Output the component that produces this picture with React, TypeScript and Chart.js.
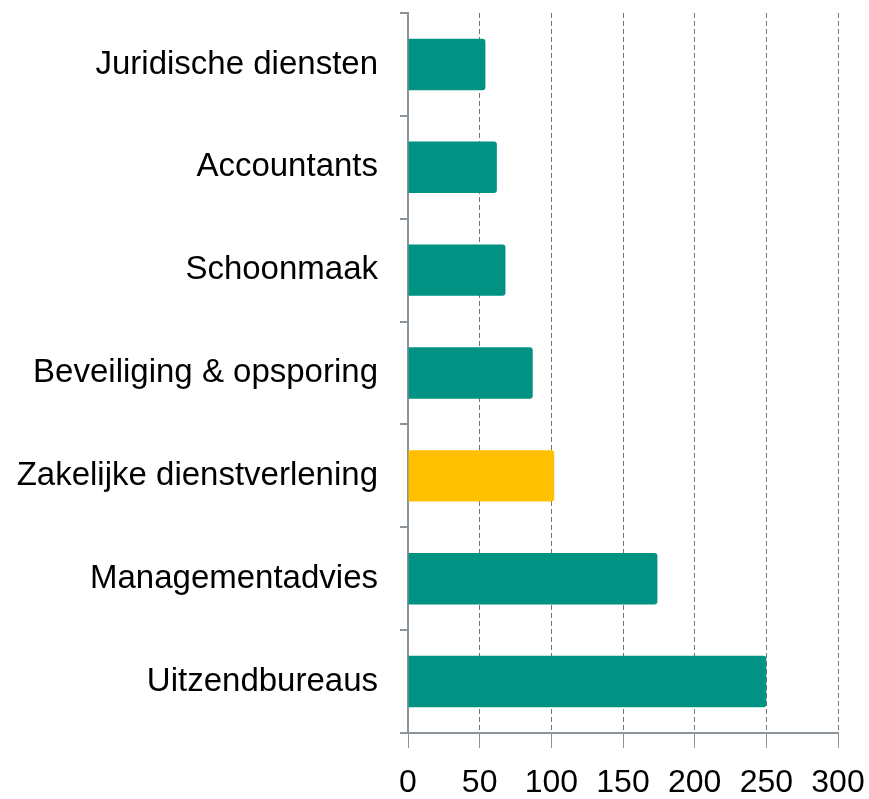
import React, { useEffect, useRef } from "react";
import { Chart, registerables } from "chart.js";

Chart.register(...registerables);

const categories = [
  "Juridische diensten",
  "Accountants",
  "Schoonmaak",
  "Beveiliging & opsporing",
  "Zakelijke dienstverlening",
  "Managementadvies",
  "Uitzendbureaus",
];
const values = [54, 62, 68, 87, 102, 174, 250];
const highlight = "Zakelijke dienstverlening";
const xTicks = [0, 50, 100, 150, 200, 250, 300];

const TEAL = "#009282";
const YELLOW = "#ffc000";
const AXIS = "#8b949b";
const GRID = "#6f7478";
const FONT = "'Liberation Sans', Arial, sans-serif";

export default function App() {
  const ref = useRef<HTMLCanvasElement | null>(null);
  useEffect(() => {
    if (!ref.current) return;
    const chart = new Chart(ref.current, {
      type: "bar",
      data: {
        labels: categories,
        datasets: [
          {
            data: values,
            backgroundColor: categories.map((c) => (c === highlight ? YELLOW : TEAL)),
            borderRadius: 3,
            borderSkipped: "start",
            barPercentage: 0.5,
            categoryPercentage: 1,
          },
        ],
      },
      options: {
        indexAxis: "y",
        animation: false,
        responsive: false,
        maintainAspectRatio: false,
        layout: { padding: { top: 13, right: 31, bottom: 0, left: 0 } },
        plugins: { legend: { display: false }, tooltip: { enabled: false } },
        scales: {
          x: {
            min: 0,
            max: 300,
            afterBuildTicks: (s: any) => {
              s.ticks = xTicks.map((v) => ({ value: v }));
            },
            afterFit: (s: any) => {
              s.height = 66;
              s.paddingLeft = 0;
              s.paddingRight = 0;
            },
            grid: {
              color: GRID,
              lineWidth: 1,
              tickLength: 15,
              tickColor: AXIS,
              drawTicks: true,
            },
            border: { display: true, color: AXIS, width: 2, dash: [5, 3] },
            ticks: {
              color: "#000",
              padding: 16,
              maxRotation: 0,
              font: { family: FONT, size: 32 },
            },
          },
          y: {
            afterFit: (s: any) => {
              s.width = 408;
              s.paddingTop = 0;
              s.paddingBottom = 0;
            },
            grid: {
              offset: true,
              drawOnChartArea: false,
              drawTicks: true,
              tickLength: 8,
              color: AXIS,
              lineWidth: 2,
            },
            border: { display: true, color: AXIS, width: 2 },
            ticks: {
              color: "#000",
              padding: 22,
              font: { family: FONT, size: 33 },
            },
          },
        },
      },
    });
    return () => chart.destroy();
  }, []);
  return (
    <div style={{ position: "fixed", left: 0, top: 0, width: 869, height: 799, background: "#fff" }}>
      <canvas ref={ref} width={869} height={799} style={{ display: "block" }} />
    </div>
  );
}
